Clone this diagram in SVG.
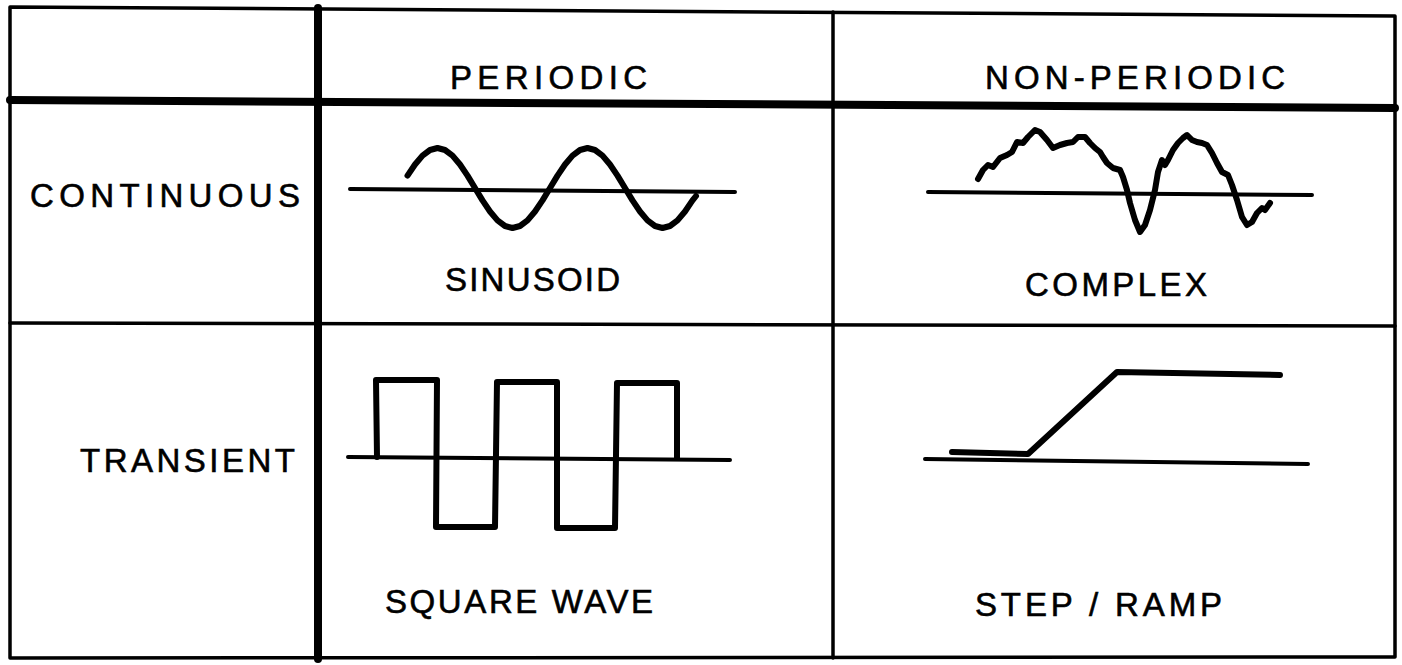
<svg xmlns="http://www.w3.org/2000/svg" width="1402" height="665" viewBox="0 0 1402 665">
<style>
.ln{fill:none;stroke:#000;stroke-linecap:round;stroke-linejoin:round}
.thin{stroke-width:3.5}
.thick{stroke-width:8}
.axis{stroke-width:4}
.wave{stroke-width:6}
.lbl{font-family:"Liberation Sans",Arial,sans-serif;font-size:33px;fill:#000;stroke:#000;stroke-width:0.6}
</style>
<rect width="1402" height="665" fill="#fff"/>
<g id="table">
<path class="ln thin" d="M10,7 L1395,16 L1395,657 L10,658 Z"/>
<path class="ln thick" d="M10,100 L1395,108"/>
<path class="ln thin" d="M10,323 L1395,326"/>
<path class="ln thick" stroke-width="7" stroke-linecap="butt" d="M318,8 L318,659"/>
<path class="ln thin" d="M833,12 L833,658"/>
</g>
<g id="header-periodic"><text class="lbl" x="450" y="89" textLength="197" lengthAdjust="spacing">PERIODIC</text></g>
<g id="header-nonperiodic"><text class="lbl" x="985" y="89" textLength="300" lengthAdjust="spacing">NON-PERIODIC</text></g>
<g id="row-continuous"><text class="lbl" x="30" y="207" textLength="270" lengthAdjust="spacing">CONTINUOUS</text></g>
<g id="row-transient"><text class="lbl" x="80" y="472" textLength="215" lengthAdjust="spacing">TRANSIENT</text></g>
<g id="sinusoid">
<path class="ln axis" d="M350,189 L735,192"/>
<polyline class="ln wave" points="407.5,175.6 415,164.5 422.5,155.6 430,150 437.5,148 445,150 452.5,155.6 460,164.5 467.5,175.6 475,188 482.5,200.4 490,211.5 497.5,220.4 505,226 512.5,228 520,226 527.5,220.4 535,211.5 542.5,200.4 550,188 557.5,175.6 565,164.5 572.5,155.6 580,150 587.5,148 595,150 602.5,155.6 610,164.5 617.5,175.6 625,188 632.5,200.4 640,211.5 647.5,220.4 655,226 662.5,228 670,226 677.5,220.4 685,211.5 692.5,200.4 696,196"/>
<text class="lbl" x="445" y="291" textLength="175" lengthAdjust="spacing">SINUSOID</text>
</g>
<g id="complex">
<path class="ln axis" d="M928,192 L1312,195"/>
<polyline class="ln wave" points="978,179 983,170 988,165 993,167 1000,158 1007,155 1012,152 1017,142 1023,143 1028,137 1035,130 1040,132 1047,140 1053,148 1060,145 1067,143 1073,142 1078,137 1085,137 1090,143 1095,148 1100,152 1103,157 1107,163 1113,168 1120,170 1123,177 1127,190 1130,203 1135,220 1140,232 1145,225 1150,210 1155,190 1158,172 1162,160 1165,165 1168,160 1173,150 1178,143 1183,138 1187,135 1192,140 1197,142 1202,143 1207,145 1212,153 1217,163 1222,172 1228,175 1232,185 1237,200 1242,217 1247,225 1252,222 1257,213 1262,208 1265,210 1270,203"/>
<text class="lbl" x="1025" y="296" textLength="182" lengthAdjust="spacing">COMPLEX</text>
</g>
<g id="square-wave">
<path class="ln axis" d="M348,457 L730,460"/>
<polyline class="ln wave" points="377,457 376,380 437,380 436,527 495,527 497,382 557,382 557,528 615,528 617,383 677,383 677,458"/>
<text class="lbl" x="385" y="613" textLength="268" lengthAdjust="spacing">SQUARE WAVE</text>
</g>
<g id="step-ramp">
<path class="ln axis" d="M925,459 L1308,464"/>
<polyline class="ln wave" points="952,452 1028,454 1117,372 1280,375"/>
<text class="lbl" x="975" y="616" textLength="247" lengthAdjust="spacing">STEP / RAMP</text>
</g>
</svg>
